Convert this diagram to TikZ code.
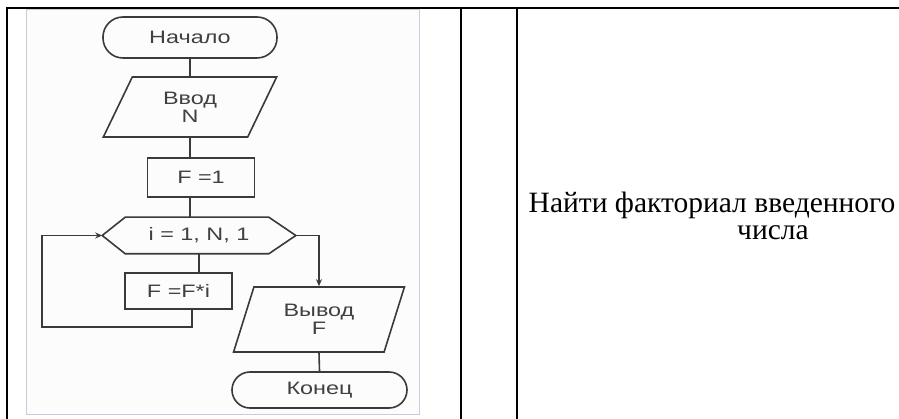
\documentclass[tikz,border=0pt]{standalone}
\usepackage{fontspec}
\setmainfont{Liberation Serif}
\newfontfamily\fcfont[FakeStretch=1.3]{Liberation Sans}
\usetikzlibrary{shapes.geometric,arrows.meta}
\definecolor{fcline}{HTML}{3A3A3A}
\definecolor{fctext}{HTML}{404040}
\definecolor{imgborder}{HTML}{C5CFD9}
\definecolor{imgfill}{HTML}{FCFCFC}
\begin{document}
\begin{tikzpicture}[x=1pt,y=-1pt,
  fc/.style={draw=fcline, line width=1.6pt, text=fctext, font=\fcfont\fontsize{18}{18}\selectfont, align=center, inner sep=0pt},
  term/.style={fc, rectangle, minimum width=174pt},
  proc/.style={fc, rectangle, minimum width=107pt},
  io/.style={fc, trapezium, trapezium stretches=true},
  conn/.style={draw=fcline, line width=1.6pt},
  arr/.style={conn, -{Stealth[length=7pt,width=6pt]}},
  tbl/.style={line width=2pt, draw=black},
  desc/.style={font=\fontsize{29.5}{32}\selectfont, anchor=base, inner sep=0pt}]
\useasboundingbox (0,0) rectangle (899,419);
% embedded flowchart image frame
\draw[draw=imgborder, fill=imgfill, line width=1pt] (26,10) rectangle (419,414);
% flowchart nodes
\node[term, rounded corners=20pt, minimum height=41pt] (nach) at (190,37.5) {Начало};
\node[io, trapezium left angle=66, trapezium right angle=114, minimum width=174pt, minimum height=60pt] (vvod) at (190,107) {Ввод\\N};
\node[proc, minimum height=39pt] (f1) at (201,177.5) {F =1};
\node[fc, draw=none, minimum width=192pt, minimum height=35pt] (loop) at (199,235.5) {i = 1, N, 1};
\draw[conn] (loop.west) -- ([xshift=23pt]loop.north west) -- ([xshift=-27pt]loop.north east) -- (loop.east) -- ([xshift=-27pt]loop.south east) -- ([xshift=23pt]loop.south west) -- cycle;
\node[proc, minimum height=36pt] (body) at (178.5,291) {F =F*i};
\node[io, trapezium left angle=70, trapezium right angle=110, minimum width=172pt, minimum height=65pt] (out) at (319,319.5) {Вывод\\F};
\node[term, rounded corners=18pt, minimum width=175pt, minimum height=36pt] (kon) at (319.5,390) {Конец};
\coordinate (lb) at (42,327);
% connectors
\draw[conn] (nach.south) -- (vvod.north);
\draw[conn] (vvod.south) -- (vvod.south |- f1.north);
\draw[conn] (vvod.south |- f1.south) -- (vvod.south |- loop.north);
\draw[conn] (loop.south) -- (loop.south |- body.north);
\draw[arr] ([xshift=13.5pt]body.south) |- (lb) |- (loop.west);
\draw[arr] (loop.east) -| (out.north);
\draw[conn] (out.south) -- (kon.north);
% table lines
\draw[tbl] (7,419) -- (7,8) -- (899,8);
\draw[tbl] (461,8) -- (461,419);
\draw[tbl] (517,8) -- (517,419);
% description
\node[desc] (t1) at (712,213) {Найти факториал введенного};
\node[desc] (t2) at (773,240) {числа};
\end{tikzpicture}
\end{document}
